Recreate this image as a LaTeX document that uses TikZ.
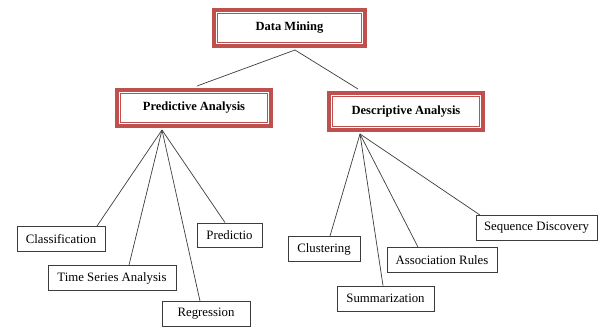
\documentclass[tikz,border=0pt]{standalone}
\usepackage{fontspec}
\setmainfont{Liberation Serif}
\definecolor{boxred}{RGB}{192,80,77}
\definecolor{edgegray}{RGB}{60,60,60}
\begin{document}
\begin{tikzpicture}[x=1pt,y=-1pt,
  mainbox/.style={draw=boxred, line width=4pt, fill=white, inner sep=0pt,
    font=\bfseries\fontsize{12.5}{14}\selectfont},
  leafbox/.style={draw=edgegray, line width=0.9pt, fill=white, inner sep=0pt,
    minimum height=25pt, font=\fontsize{12.8}{14}\selectfont},
  link/.style={draw=edgegray, line width=0.7pt}
]
\useasboundingbox (0,0) rectangle (598,328);
% main boxes
\node[mainbox, minimum width=151pt, minimum height=36pt] (dm) at (289.5,28) {Data Mining};
\node[mainbox, minimum width=154pt, minimum height=36pt] (pa) at (194,108) {Predictive Analysis};
\node[mainbox, minimum width=154pt, minimum height=37pt] (da) at (406,111.5) {Descriptive Analysis};
\foreach \n in {dm,pa,da}{
  \draw[boxred, line width=1.1pt]
    ([shift={(5.3pt,-5.3pt)}]\n.north west) rectangle ([shift={(-5.3pt,5.3pt)}]\n.south east);
}
% leaf boxes
\node[leafbox, minimum width=88pt] (cls) at (61,239) {Classification};
\node[leafbox, minimum width=128pt] (tsa) at (112,278) {Time Series Analysis};
\node[leafbox, minimum width=88pt] (reg) at (206,314) {Regression};
\node[leafbox, minimum width=65pt, minimum height=24pt] (pre) at (229.5,235) {Predictio};
\node[leafbox, minimum width=72pt] (clu) at (324,249) {Clustering};
\node[leafbox, minimum width=97pt] (sum) at (385.5,298.5) {Summarization};
\node[leafbox, minimum width=110pt] (asr) at (442,260) {Association Rules};
\node[leafbox, minimum width=121pt] (seq) at (536.5,228) {Sequence Discovery};
% junction points
\coordinate (dmapex) at ([xshift=5.5pt, yshift=-2pt]dm.south);
\coordinate (pfan) at ([xshift=-32pt, yshift=-2pt]pa.south);
\coordinate (dfan) at ([xshift=-46pt, yshift=-2pt]da.south);
% connectors
\draw[link] (dmapex) -- ([xshift=3pt, yshift=2pt]pa.north);
\draw[link] (dmapex) -- ([xshift=-48pt, yshift=2pt]da.north);
\draw[link] (pfan) -- ([xshift=36pt]cls.north);
\draw[link] (pfan) -- ([xshift=17pt]tsa.north);
\draw[link] (pfan) -- ([xshift=-6pt]reg.north);
\draw[link] (pfan) -- ([xshift=-4.5pt]pre.north);
\draw[link] (dfan) -- ([xshift=6pt]clu.north);
\draw[link] (dfan) -- ([xshift=-2.5pt]sum.north);
\draw[link] (dfan) -- ([xshift=-24pt]asr.north);
\draw[link] (dfan) -- ([xshift=-56.5pt]seq.north);
\end{tikzpicture}
\end{document}
